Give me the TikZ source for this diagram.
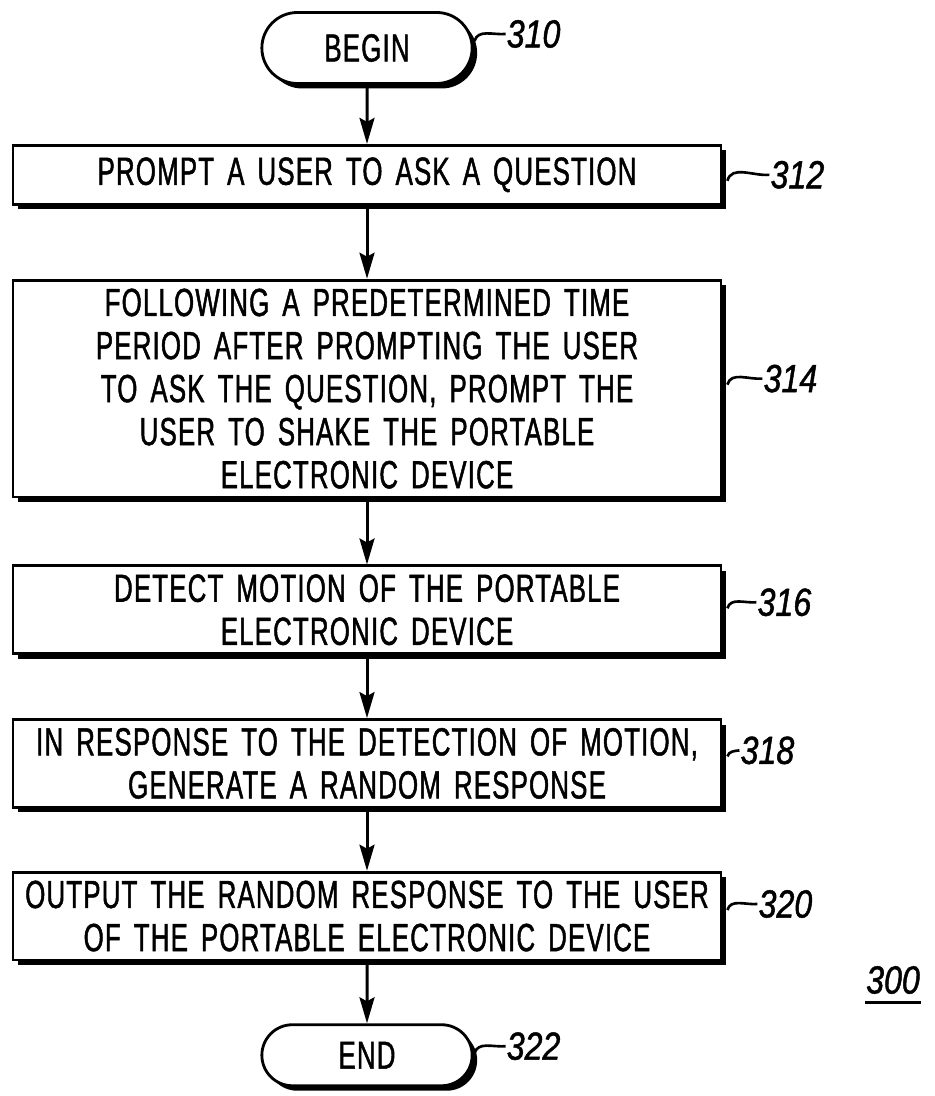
\documentclass[tikz,border=0pt]{standalone}
\usepackage{fontspec}
\setmainfont{Liberation Sans}[FakeStretch=0.66, LetterSpace=3, WordSpace=3, FakeBold=1.2]
\newfontfamily\numfont{Liberation Sans}[FakeStretch=0.82, FakeBold=1.2]
\usetikzlibrary{arrows.meta,calc,positioning,shapes.misc,shadows}
\newcommand{\boxfont}{\fontsize{22.3}{24.5}\selectfont}
\newcommand{\refsize}{\numfont\itshape\fontsize{22.3}{24.5}\selectfont}
\tikzset{%
	shadowed/.style  = {drop shadow={shadow xshift=0.1cm, shadow yshift=-0.1cm, fill=black, opacity=1}},
	startstop/.style = {draw, rounded rectangle, fill=white, line width=1.6pt, shadowed, minimum width=4.44cm, minimum height=1.42cm, font=\boxfont},
	process/.style   = {draw, rectangle, fill=white, line width=1.6pt, shadowed, text width=13.82cm, inner xsep=0.17cm, inner ysep=0.17cm, align=center, font=\boxfont},
	refnum/.style    = {inner sep=0.5pt, font=\refsize},
	arrow/.style     = {line width=1.7pt, -{Stealth[length=0.52cm, width=0.3cm, inset=0.08cm]}},
	leader/.style    = {line width=1.5pt},
}

\begin{document}
\begin{tikzpicture}
	\useasboundingbox (0,0) rectangle (18.68,-21.92);
	% flow of steps
	\node[startstop] (begin) at (7.34,-0.96) {BEGIN};
	\node[process, below=1.18cm of begin, minimum height=1.18cm] (p312) {PROMPT A USER TO ASK A QUESTION};
	\node[process, below=1.46cm of p312] (p314) {FOLLOWING A PREDETERMINED TIME\\PERIOD AFTER PROMPTING THE USER\\TO ASK THE QUESTION, PROMPT THE\\USER TO SHAKE THE PORTABLE\\ELECTRONIC DEVICE};
	\node[process, below=1.32cm of p314] (p316) {DETECT MOTION OF THE PORTABLE\\ELECTRONIC DEVICE};
	\node[process, below=1.26cm of p316] (p318) {IN RESPONSE TO THE DETECTION OF MOTION,\\GENERATE A RANDOM RESPONSE};
	\node[process, below=1.24cm of p318] (p320) {OUTPUT THE RANDOM RESPONSE TO THE USER\\OF THE PORTABLE ELECTRONIC DEVICE};
	\node[startstop, below=1.24cm of p320, minimum height=1.22cm] (stop) {END};

	\draw[arrow] (begin) -- (p312);
	\draw[arrow] (p312) -- (p314);
	\draw[arrow] (p314) -- (p316);
	\draw[arrow] (p316) -- (p318);
	\draw[arrow] (p318) -- (p320);
	\draw[arrow] (p320) -- (stop);

	% reference numerals
	\node[refnum, right=0.64cm of begin, yshift=0.28cm] (n310) {310};
	\node[refnum, right=0.94cm of p312] (n312) {312};
	\node[refnum, right=0.8cm of p314, yshift=0.2cm] (n314) {314};
	\node[refnum, right=0.68cm of p316, yshift=0.15cm] (n316) {316};
	\node[refnum, right=0.34cm of p318, yshift=0.26cm] (n318) {318};
	\node[refnum, right=0.7cm of p320, yshift=0.24cm] (n320) {320};
	\node[refnum, right=0.64cm of stop, yshift=0.18cm] (n322) {322};
	\node[refnum] (n300) at (17.86,-19.6) {300};
	\draw[line width=1.8pt] ([yshift=-0.14cm]n300.south west) -- ([yshift=-0.14cm]n300.south east);

	\draw[leader] ($(begin.east |- n310.west)+(0.02,-0.14)$) to[out=75,in=185] (n310.west);
	\draw[leader] ($(p312.east |- n312.west)+(0.1,-0.12)$) to[out=75,in=185] (n312.west);
	\draw[leader] ($(p314.east |- n314.west)+(0.1,-0.12)$) to[out=75,in=185] (n314.west);
	\draw[leader] ($(p316.east |- n316.west)+(0.1,-0.12)$) to[out=75,in=185] (n316.west);
	\draw[leader] ($(p318.east |- n318.west)+(0.1,-0.12)$) to[out=75,in=185] (n318.west);
	\draw[leader] ($(p320.east |- n320.west)+(0.1,-0.12)$) to[out=75,in=185] (n320.west);
	\draw[leader] ($(stop.east |- n322.west)+(0.02,-0.14)$) to[out=75,in=185] (n322.west);
\end{tikzpicture}
\end{document}
